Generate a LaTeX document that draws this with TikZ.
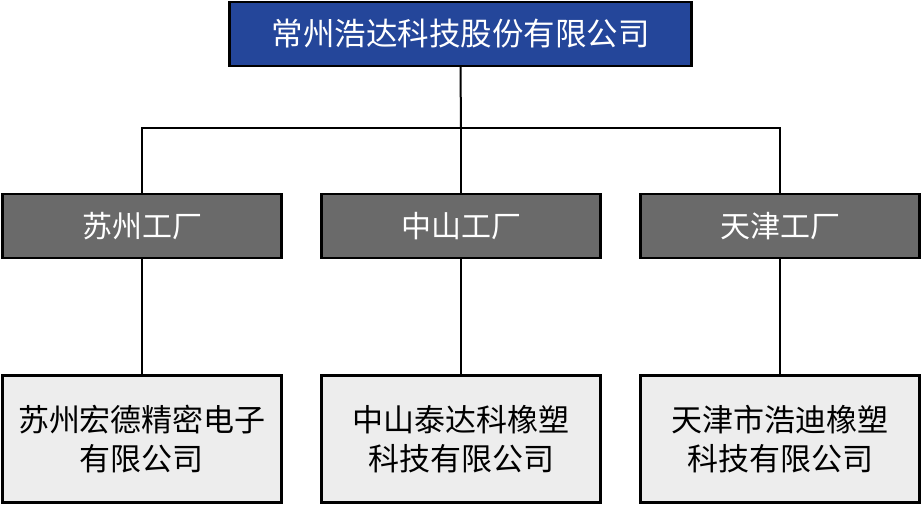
\documentclass[tikz,border=0pt]{standalone}
\usepackage{fontspec}
\setmainfont{Noto Sans CJK SC}
\usepackage{tikz}
\usetikzlibrary{positioning}
\definecolor{navy}{HTML}{24469A}
\definecolor{plant}{HTML}{6A6A6A}
\definecolor{pale}{HTML}{EDEDED}

\begin{document}
\begin{tikzpicture}[x=1pt,y=-1pt,
  box/.style={draw=black,line width=2.4pt,minimum height=64pt,inner sep=0pt,align=center},
  hq/.style={box,fill=navy,text=white,minimum width=462pt,font=\fontsize{31.5}{36}\selectfont},
  factory/.style={box,fill=plant,text=white,minimum width=279pt,font=\fontsize{30}{36}\selectfont},
  firm/.style={box,fill=pale,text=black,minimum width=279pt,minimum height=127pt,font=\fontsize{31}{39}\selectfont},
  link/.style={line width=2pt,color=black}]
  \useasboundingbox (0,0) rectangle (922,505);
  \node[hq] (top) at (460.5,34) {常州浩达科技股份有限公司};
  \node[factory] (f1) at (142,226) {苏州工厂};
  \node[factory] (f2) at (461,226) {中山工厂};
  \node[factory] (f3) at (780,226) {天津工厂};
  \node[firm] (c1) at (142,439) {苏州宏德精密电子\\有限公司};
  \node[firm] (c2) at (461,439) {中山泰达科橡塑\\科技有限公司};
  \node[firm] (c3) at (780,439) {天津市浩迪橡塑\\科技有限公司};
  \coordinate (bus) at (461,128);
  \draw[link] (top.south) -- (bus);
  \draw[link] (f1.north) |- (bus) -| (f3.north);
  \draw[link] (bus) -- (f2.north);
  \draw[link] (f1) -- (c1); \draw[link] (f2) -- (c2); \draw[link] (f3) -- (c3);
\end{tikzpicture}
\end{document}
